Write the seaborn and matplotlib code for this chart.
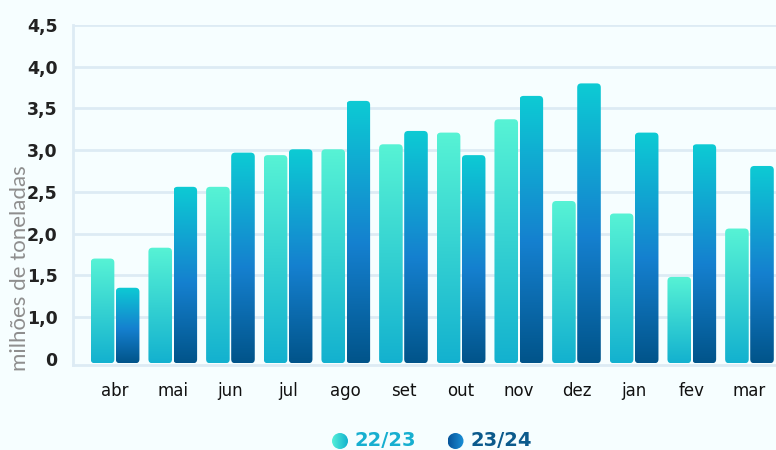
import numpy as np
import pandas as pd
import matplotlib
matplotlib.use("Agg")
import matplotlib.pyplot as plt
import seaborn as sns
from matplotlib.colors import LinearSegmentedColormap, to_hex
from matplotlib.patches import FancyBboxPatch, Circle

# data (milhões de toneladas)
meses = ["abr", "mai", "jun", "jul", "ago", "set", "out", "nov", "dez", "jan", "fev", "mar"]
safra_2223 = [1.70, 1.83, 2.56, 2.94, 3.01, 3.07, 3.21, 3.37, 2.39, 2.24, 1.48, 2.06]
safra_2324 = [1.35, 2.56, 2.97, 3.01, 3.59, 3.23, 2.94, 3.65, 3.80, 3.21, 3.07, 2.81]
safras = ["22/23", "23/24"]
y_ticks = [0.5, 1.0, 1.5, 2.0, 2.5, 3.0, 3.5, 4.0, 4.5]
y_labels = ["0", "1,0", "1,5", "2,0", "2,5", "3,0", "3,5", "4,0", "4,5"]

df = pd.DataFrame({
    "mes": meses * 2,
    "valor": safra_2223 + safra_2324,
    "safra": [safras[0]] * len(meses) + [safras[1]] * len(meses),
})

BG = "#F6FEFF"
GRID = "#DDEBF4"
base_colors = {"22/23": "#2CD6D4", "23/24": "#0E7FC4"}
grad_cmaps = {
    "22/23": LinearSegmentedColormap.from_list("g1", ["#57F3D5", "#13B1CF"]),
    "23/24": LinearSegmentedColormap.from_list(
        "g2", [(0, "#0DCBD4"), (0.55, "#1580CF"), (1, "#01548A")]),
}
text_colors = {"22/23": "#17AFD0", "23/24": "#0B5A8C"}

sns.set_theme(style="white")
plt.rcParams["font.family"] = ["DejaVu Sans"]

fig = plt.figure(figsize=(7.76, 4.5), dpi=100, facecolor=BG)
ax = fig.add_axes([73 / 776, 85 / 450, 703 / 776, 340 / 450])
ax.set_facecolor(BG)

sns.barplot(data=df, x="mes", y="valor", hue="safra", order=meses,
            hue_order=safras, palette=base_colors, saturation=1,
            width=0.87, gap=0.06, legend=False, ax=ax)

y_bottom = 0.445
gradient = np.linspace(0, 1, 256).reshape(-1, 1)
hex_to_safra = {to_hex(c): s for s, c in base_colors.items()}
for rect in list(ax.patches):
    safra = hex_to_safra.get(to_hex(rect.get_facecolor()))
    if safra is None:
        continue
    x0, w, h = rect.get_x(), rect.get_width(), rect.get_height()
    # rounded outline used as clip path for the gradient
    shape = FancyBboxPatch((x0, y_bottom), w, h - y_bottom,
                           boxstyle="round,pad=0,rounding_size=0.07",
                           mutation_aspect=0.69, facecolor="none",
                           edgecolor="none", transform=ax.transData)
    ax.add_patch(shape)
    im = ax.imshow(gradient, cmap=grad_cmaps[safra], aspect="auto",
                   origin="upper", extent=[x0, x0 + w, y_bottom, h],
                   zorder=3, interpolation="bilinear")
    im.set_clip_path(shape)
    rect.remove()

ax.set_xlim(-0.73, 11.46)
ax.set_ylim(0.424, 4.5)
ax.set_yticks(y_ticks)
ax.set_yticklabels(y_labels, fontsize=12.5, fontweight="bold", color="#222222")
ax.tick_params(axis="y", length=0, pad=11)
ax.tick_params(axis="x", length=0, pad=12, labelsize=12, labelcolor="#111111")
ax.set_xlabel("")
ax.set_ylabel("")

ax.yaxis.grid(True, color=GRID, linewidth=2)
ax.set_axisbelow(True)
ax.get_ygridlines()[0].set_visible(False)
for side in ["top", "right"]:
    ax.spines[side].set_visible(False)
for side in ["left", "bottom"]:
    ax.spines[side].set_color(GRID)
    ax.spines[side].set_linewidth(2)

fig.text(20 / 776, 1 - 268 / 450, "milhões de toneladas", rotation=90,
         ha="center", va="center", fontsize=16, color="#8E8E8E",
         family=["Lato", "DejaVu Sans"], fontweight="normal")

# legend with gradient dots
leg = fig.add_axes([0, 0, 1, 1], zorder=5)
leg.set_xlim(0, 776)
leg.set_ylim(450, 0)
leg.axis("off")
leg.patch.set_alpha(0)
dot_cmaps = {
    "22/23": LinearSegmentedColormap.from_list("d1", ["#55F0D8", "#12B2CE"]),
    "23/24": LinearSegmentedColormap.from_list("d2", ["#06549A", "#1A90D8"]),
}
for safra, cx, tx in [("22/23", 340, 354), ("23/24", 455.5, 471)]:
    circ = Circle((cx, 441), 8, facecolor="none", edgecolor="none",
                  transform=leg.transData)
    leg.add_patch(circ)
    im = leg.imshow(np.linspace(0, 1, 64).reshape(1, -1), cmap=dot_cmaps[safra],
                    extent=[cx - 8, cx + 8, 449, 433], aspect="auto")
    im.set_clip_path(circ)
    leg.text(tx, 441, safra, ha="left", va="center", fontsize=14,
             fontweight="heavy", color=text_colors[safra])
leg.set_xlim(0, 776)
leg.set_ylim(450, 0)

fig.savefig("out.png", dpi=100, facecolor=BG)
